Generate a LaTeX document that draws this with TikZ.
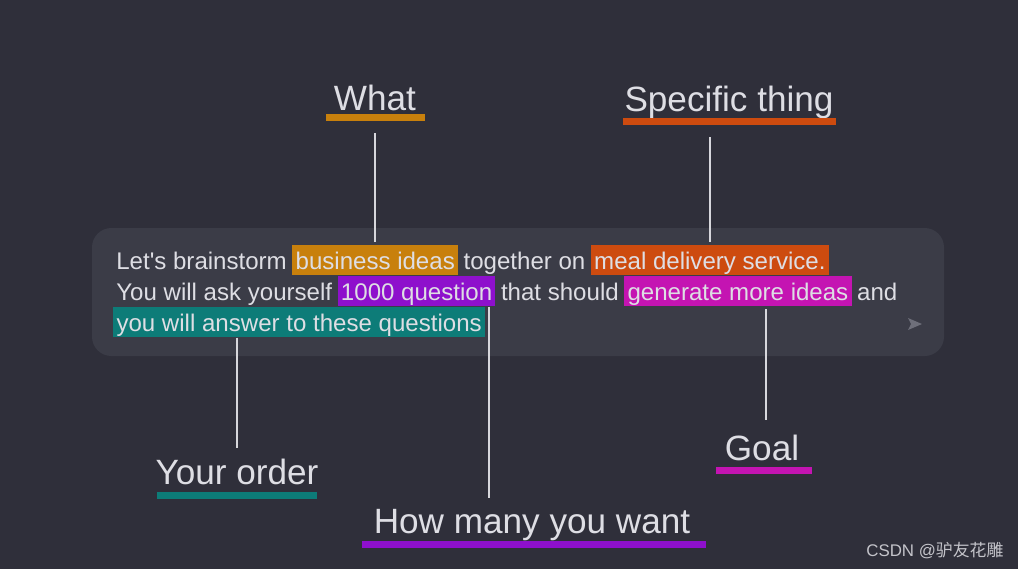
\documentclass[tikz,border=0pt]{standalone}
\usepackage{fontspec}
\newfontfamily\arial{Liberation Sans}
\newfontfamily\cjk{Noto Sans CJK SC}
\usetikzlibrary{positioning}
\definecolor{bgdark}{RGB}{47,47,58}
\definecolor{boxbg}{RGB}{59,60,71}
\definecolor{fgtext}{RGB}{222,222,228}
\definecolor{linecol}{RGB}{215,215,220}
\definecolor{cbiz}{RGB}{200,128,12}
\definecolor{cmeal}{RGB}{205,75,15}
\definecolor{cqty}{RGB}{142,16,204}
\definecolor{cgen}{RGB}{196,20,178}
\definecolor{cans}{RGB}{13,124,120}
\definecolor{sendgray}{RGB}{110,111,122}
\begin{document}
\begin{tikzpicture}[x=0.02cm, y=-0.02cm,
  txt/.style={inner sep=0pt, text=fgtext, font=\arial\fontsize{13.7}{16}\selectfont},
  hl/.style={txt, inner xsep=1.8pt, inner ysep=0pt, text height=13.5pt, text depth=3.5pt, fill=#1},
  lbl/.style={inner sep=0pt, anchor=base, text=fgtext, font=\arial\fontsize{20}{24}\selectfont},
  conn/.style={draw=linecol, line width=1.1pt},
  node distance=2.8pt]
  % background and prompt box
  \fill[bgdark] (0,0) rectangle (1018,569);
  \fill[boxbg, rounded corners=11pt] (92,228) rectangle (944,356);

  % prompt text
  \node[txt, anchor=base west] (l1) at (116,269) {Let's brainstorm};
  \node[hl=cbiz, base right=of l1] (biz) {business ideas};
  \node[txt, base right=of biz] (l1b) {together on};
  \node[hl=cmeal, base right=of l1b] (meal) {meal delivery service.};

  \node[txt, anchor=base west] (l2) at (116,300) {You will ask yourself};
  \node[hl=cqty, base right=of l2] (qty) {1000 question};
  \node[txt, base right=of qty] (l2b) {that should};
  \node[hl=cgen, base right=of l2b] (gen) {generate more ideas};
  \node[txt, base right=of gen] (l2c) {and};

  \node[hl=cans, anchor=base west] (ans) at (113,331) {you will answer to these questions};

  % send icon
  \fill[sendgray] (908,318) -- (922,324) -- (908,330) -- (911,324) -- cycle;

  % labels with bars
  \node[lbl] (what) at (375,110) {What};
  \fill[cbiz] (326,114) rectangle (425,121);
  \node[lbl] (spec) at (729,111) {Specific thing};
  \fill[cmeal] (623,118) rectangle (836,125);
  \node[lbl] (order) at (237,484) {Your order};
  \fill[cans] (157,492) rectangle (317,499);
  \node[lbl] (howmany) at (532,533) {How many you want};
  \fill[cqty] (362,541) rectangle (706,548);
  \node[lbl] (goal) at (762,460) {Goal};
  \fill[cgen] (716,467) rectangle (812,474);

  % connectors
  \draw[conn, shorten <=1.7pt, shorten >=13pt] (biz.north) -- (biz.north |- what.base);
  \draw[conn, shorten <=1.7pt, shorten >=14.7pt] (meal.north) -- (meal.north |- spec.base);
  \draw[conn, shorten >=5.7pt] (ans.south -| order.north) -- (order.north);
  \draw[conn, shorten >=6pt] ([xshift=-4pt]qty.south east) -- ([xshift=-4pt]qty.south east |- howmany.north);
  \draw[conn, shorten <=1.7pt, shorten >=8pt] ([xshift=2.5pt]gen.south -| goal.north) -- ([xshift=2.5pt]goal.north);

  % watermark
  \node[anchor=base west, inner sep=0pt, text=fgtext!85!bgdark, font=\arial\fontsize{9.6}{12}\selectfont] (mark) at (866,556) {CSDN @{\cjk 驴友花雕}};
\end{tikzpicture}
\end{document}
